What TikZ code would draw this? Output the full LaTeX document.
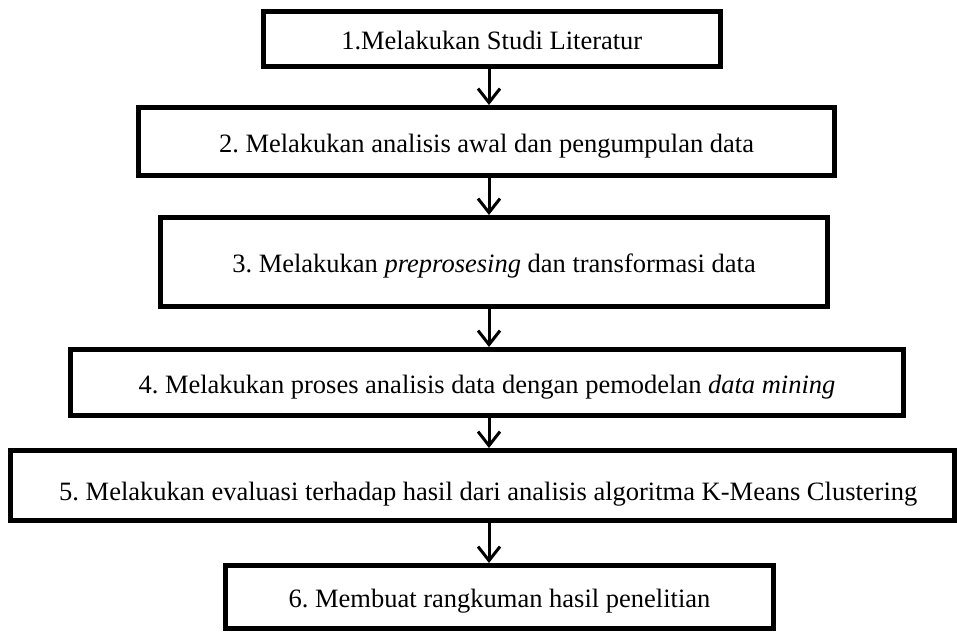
\documentclass[tikz,border=0pt]{standalone}
\usepackage{fontspec}
\setmainfont{Liberation Serif}
\usetikzlibrary{arrows.meta}
\frenchspacing

\begin{document}
\begin{tikzpicture}[x=1pt,y=-1pt,
  stepbox/.style={draw=black, line width=5pt, inner sep=0pt, anchor=center,
    text height=21.4pt, text depth=0pt,
    font=\fontsize{26.5}{31}\selectfont\frenchspacing},
  flow/.style={line width=3pt, -{Straight Barb[length=14pt,width=22pt,line width=3pt]}}
]
  \useasboundingbox (0,0) rectangle (957,631);

  % process steps, top to bottom
  \node[stepbox, minimum width=456.5pt, minimum height=55pt]   (b1) at (491.75,39)   {1.Melakukan Studi Literatur};
  \node[stepbox, minimum width=696pt,   minimum height=68pt]   (b2) at (486.5,141.5) {2. Melakukan analisis awal dan pengumpulan data};
  \node[stepbox, minimum width=667pt,   minimum height=89pt]   (b3) at (494,262)     {3. Melakukan \textit{preprosesing} dan transformasi data};
  \node[stepbox, minimum width=833pt,   minimum height=66pt]   (b4) at (487,382.5)   {4. Melakukan proses analisis data dengan pemodelan \textit{data mining}};
  \node[stepbox, minimum width=943.5pt, minimum height=70pt, text height=30pt]
                                                               (b5) at (482.25,485.5) {\hspace*{12pt}5. Melakukan evaluasi terhadap hasil dari analisis algoritma K-Means Clustering};
  \node[stepbox, minimum width=548pt,   minimum height=62.5pt] (b6) at (499.5,596.75) {6. Membuat rangkuman hasil penelitian};

  % vertical axis of the connectors
  \coordinate (axis) at (489,0);

  \draw[flow] (b1.south -| axis) -- (b2.north -| axis);
  \draw[flow] (b2.south -| axis) -- (b3.north -| axis);
  \draw[flow] (b3.south -| axis) -- (b4.north -| axis);
  \draw[flow] (b4.south -| axis) -- (b5.north -| axis);
  \draw[flow] (b5.south -| axis) -- (b6.north -| axis);
\end{tikzpicture}
\end{document}
